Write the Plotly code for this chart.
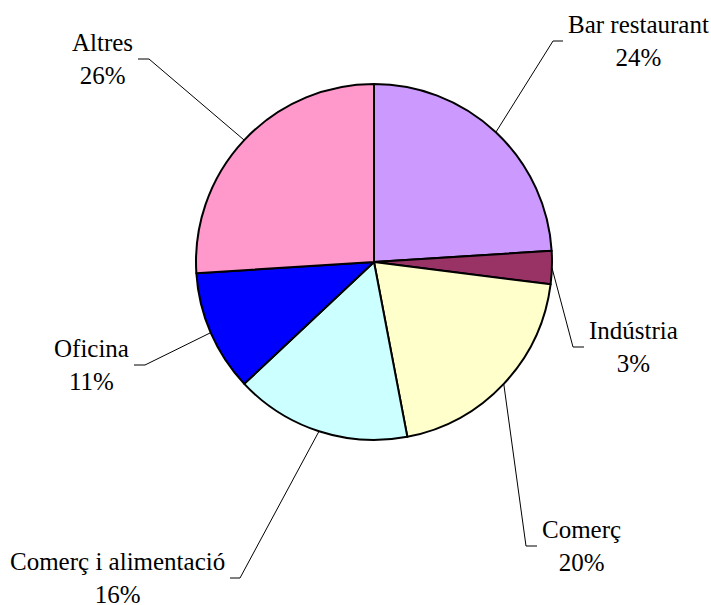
import math
import plotly.graph_objects as go

W, H = 711, 605

labels = ["Bar restaurant", "Indústria", "Comerç", "Comerç i alimentació", "Oficina", "Altres"]
values = [24, 3, 20, 16, 11, 26]
colors = ["#CC99FF", "#993366", "#FFFFCC", "#CCFFFF", "#0000FF", "#FF99CC"]

# pie geometry in pixels
cx, cy, r = 374, 262, 178

# leader line elbows (pixel) and length/direction of the short horizontal tick
elbows = [(553, 41), (573, 347), (526, 546), (240, 578), (145, 365), (149, 59)]
tick = [10, 11, 11, -10, -11, -11]


def px(x):
    return x / W


def py(y):
    return 1 - y / H


fig = go.Figure(go.Pie(
    labels=labels, values=values, sort=False, direction="clockwise", rotation=0,
    marker=dict(colors=colors, line=dict(color="black", width=2)),
    textinfo="none", hoverinfo="label+percent",
    domain=dict(x=[px(cx - r), px(cx + r)], y=[py(cy + r), py(cy - r)]),
))

total = sum(values)
cum = 0
shapes, annotations = [], []
for lab, v, (ex, ey), t in zip(labels, values, elbows, tick):
    mid = (cum + v / 2) / total * 2 * math.pi
    cum += v
    sx = cx + r * math.sin(mid)
    sy = cy - r * math.cos(mid)
    tx = ex + t
    shapes.append(dict(
        type="path", xref="paper", yref="paper",
        path=f"M {px(sx)} {py(sy)} L {px(ex)} {py(ey)} L {px(tx)} {py(ey)}",
        line=dict(color="black", width=1),
    ))
    pct = round(v / total * 100)
    annotations.append(dict(
        x=px(tx + (3 if t > 0 else -3)), y=py(ey), xref="paper", yref="paper",
        text=f"{lab}<br>{pct}%", showarrow=False, align="center",
        xanchor="left" if t > 0 else "right", yanchor="middle",
        font=dict(family="Liberation Serif", size=25, color="black"),
    ))

fig.update_layout(
    width=W, height=H, margin=dict(l=0, r=0, t=0, b=0),
    paper_bgcolor="white", plot_bgcolor="white", showlegend=False,
    shapes=shapes, annotations=annotations,
)

fig.write_html("out.html", config={"displayModeBar": False},
               post_script="document.body.style.margin='0px';")
